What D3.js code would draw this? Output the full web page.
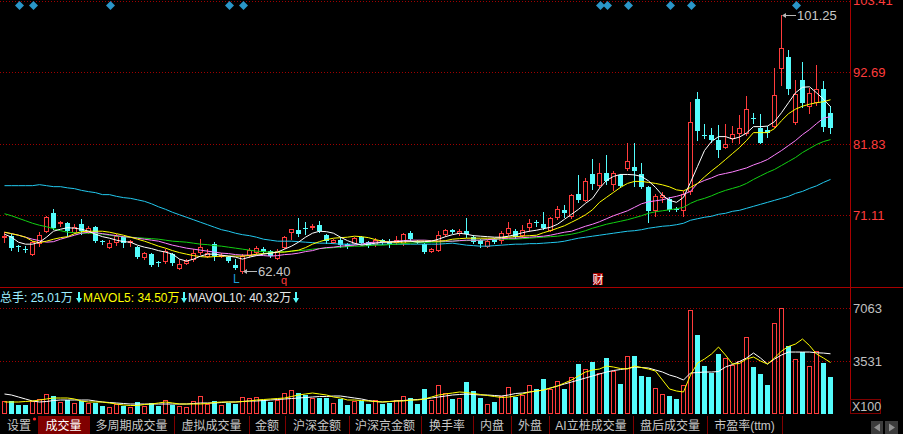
<!DOCTYPE html>
<html><head><meta charset="utf-8">
<script src="https://cdn.jsdelivr.net/npm/d3@7"></script>
<style>
html,body{margin:0;padding:0;background:#000;overflow:hidden}
svg{display:block}
text{font-family:"Liberation Sans",Arial,"Noto Sans CJK SC",sans-serif}
</style></head><body><svg id="c" width="903" height="434"></svg>
<script>
// ---------- DATA ----------
const open=[67.8,67.95,66.45,66.0,65.25,66.9,68.7,71.4,69.9,69.9,
68.55,69.75,68.55,69.3,67.2,66.3,67.05,67.8,67.05,66.3,
64.8,65.25,64.05,64.2,65.25,63.15,63.9,64.5,65.55,64.95,
66.75,64.95,64.8,63.6,62.7,65.1,65.55,66.0,65.7,64.65,
66.3,68.55,68.85,69.15,69.3,69.6,68.1,67.05,67.35,66.75,
66.9,67.8,67.05,66.75,67.35,67.05,67.05,66.9,68.4,67.2,
66.75,65.7,65.85,68.25,68.85,68.4,68.7,67.8,67.35,66.45,
67.5,67.35,68.4,68.7,68.1,69.3,70.05,69.75,68.85,70.8,
71.85,70.95,74.25,73.35,77.25,75.6,77.4,75.75,77.1,78.15,
78.3,77.25,75.3,71.85,73.8,73.5,72.0,71.85,74.7,88.65,
83.25,83.25,82.5,81.45,82.8,83.55,83.55,85.8,84.3,84.0,
84.6,93.3,94.95,85.2,91.5,87.6,88.2,90.15,86.55];
const high=[68.55,68.25,66.6,66.45,67.2,68.55,70.95,72.0,70.2,70.05,
69.75,70.5,69.45,69.45,67.35,67.35,68.25,67.95,67.35,66.45,
65.55,65.4,64.2,66.0,65.4,64.5,64.5,66.0,67.5,66.0,
67.05,65.4,64.95,64.5,65.25,66.15,66.45,66.3,65.85,66.0,
67.95,69.0,70.65,70.05,69.75,70.2,68.25,67.5,67.8,66.9,
67.8,67.95,67.2,67.65,67.5,67.5,67.95,68.4,68.7,67.35,
66.9,66.15,68.7,69.0,69.0,69.0,70.65,68.1,67.5,67.5,
67.65,68.7,70.05,69.0,69.6,70.5,70.35,71.55,70.8,72.45,
72.6,74.25,77.1,76.65,79.65,78.9,80.25,77.7,77.25,82.05,
82.05,78.9,75.45,74.25,74.55,73.8,72.3,74.7,88.2,89.7,
84.9,84.3,84.75,84.9,84.6,86.25,89.1,86.55,86.4,84.6,
93.3,101.25,96.0,91.5,94.2,90.3,93.75,91.35,87.6];
const low=[67.05,65.85,65.7,65.55,65.1,66.45,68.55,69.0,69.45,67.95,
68.4,68.25,68.4,67.05,66.75,66.15,66.6,66.3,66.45,64.65,
64.5,63.45,63.45,63.9,63.6,63.0,63.75,64.2,65.25,64.8,
64.35,64.8,64.05,63.0,62.4,64.8,65.25,65.4,64.8,64.5,
66.15,67.5,67.95,68.25,69.0,68.55,66.9,66.9,66.3,66.15,
66.75,66.75,66.3,66.45,66.75,66.3,66.75,66.6,67.2,66.9,
65.4,65.55,65.7,67.95,68.4,68.1,67.8,66.9,66.3,66.3,
66.9,66.9,68.1,67.65,67.8,68.7,69.45,69.0,68.7,70.5,
70.8,70.65,73.05,73.2,75.0,75.3,75.75,74.85,75.3,77.85,
75.45,75.15,70.05,70.95,73.05,71.7,71.7,70.95,74.25,82.5,
82.8,82.2,79.95,81.3,82.2,82.05,83.25,85.05,82.05,82.95,
84.45,90.75,89.4,84.9,87.45,86.55,87.75,83.85,83.55];
const close=[67.95,66.15,66.3,65.85,67.05,68.1,70.8,69.15,70.05,68.7,
69.3,68.7,69.15,67.2,67.05,66.9,67.95,66.9,67.2,64.8,
65.4,63.6,63.9,65.7,63.9,63.75,64.2,65.4,66.3,65.4,
64.95,65.1,64.2,63.15,64.95,65.85,66.15,65.55,64.95,65.7,
67.8,69.0,68.25,69.0,69.45,68.7,67.2,67.35,66.6,66.3,
67.65,66.9,66.45,67.35,67.05,66.75,67.35,68.25,67.5,67.05,
65.55,66.0,68.1,68.85,68.55,68.7,68.25,67.05,66.75,67.2,
67.05,68.4,69.15,67.8,68.85,69.9,69.9,69.15,70.65,72.0,
71.4,74.1,73.35,76.2,75.75,77.4,76.2,77.4,75.45,79.2,
77.7,75.3,71.7,73.95,74.1,71.85,71.85,74.25,85.2,83.85,
83.1,82.5,81.0,81.9,83.4,84.3,87.15,85.65,82.05,83.55,
89.25,96.3,90.15,89.4,88.05,89.55,90.15,84.45,84.3];
// volume, in units of 100 lots (X100)
const volume=[866,866,600,600,910,1043,1332,1199,821,932,
733,888,755,777,555,466,666,577,466,799,
555,733,577,932,644,533,511,866,1199,666,
866,600,755,710,1132,1110,1132,977,821,932,
1399,1598,1399,1265,1088,1088,1088,777,999,600,
910,866,666,955,666,755,977,1199,1066,666,
1665,977,1931,1443,999,1110,2131,1532,1066,710,
799,1221,1843,1154,1265,1976,1709,2331,1709,2242,
1687,2509,3330,3041,3463,2775,3730,2908,1998,3907,
3907,2531,2464,1776,1376,1199,999,1931,6926,5306,
3197,2775,3996,3752,3263,3530,5173,3130,2664,1954,
6105,7063,4529,3663,4174,3197,4240,3397,2501];
const ma5=[68.25,67.8,67.05,66.75,66.75,67.05,67.8,68.7,69.0,69.23,
69.15,69.0,68.7,68.25,67.88,67.65,67.35,67.13,67.05,66.6,
66.3,66.08,65.78,65.55,65.25,64.5,64.2,64.5,64.95,65.25,
65.25,65.1,64.95,64.8,64.5,64.8,65.03,65.25,65.4,65.55,
66.0,66.45,67.05,67.8,68.4,68.7,68.63,68.4,67.8,67.28,
66.9,66.6,66.75,66.9,67.05,67.05,67.13,67.2,67.2,67.05,
67.13,67.2,67.5,67.88,68.18,68.4,68.25,68.03,67.95,67.88,
67.8,67.8,67.95,68.18,68.48,68.7,68.85,69.08,69.3,69.75,
70.5,71.25,72.0,72.9,73.65,75.15,76.35,76.95,77.25,77.25,
77.18,76.95,76.28,75.3,74.1,73.35,73.05,73.8,76.05,78.45,
80.85,82.2,82.95,82.95,82.58,82.88,83.48,84.45,84.45,84.53,
85.2,86.55,88.05,89.55,90.38,90.45,89.55,88.58,87.45];
const ma10=[68.55,68.33,68.1,67.8,67.2,66.98,67.2,67.5,67.73,67.88,
68.33,68.63,68.7,68.7,68.7,68.55,68.33,68.1,67.8,67.5,
67.2,66.83,66.45,66.15,65.78,65.48,65.25,65.03,64.88,64.8,
64.88,64.95,64.95,64.95,64.95,65.03,65.25,65.33,65.4,65.55,
65.55,65.7,65.85,66.23,66.75,67.13,67.43,67.65,67.73,67.8,
67.95,67.88,67.73,67.43,67.2,67.05,67.05,67.05,67.13,67.2,
67.2,67.2,67.2,67.28,67.5,67.58,67.65,67.65,67.65,67.65,
67.65,67.73,67.8,67.88,67.95,68.03,68.1,68.48,68.78,69.15,
69.53,70.05,70.58,71.18,71.93,73.05,73.8,74.55,75.3,75.9,
76.2,76.2,76.05,75.9,75.68,75.38,74.93,74.78,75.3,75.9,
76.88,77.78,78.6,79.5,80.4,81.3,82.35,83.55,83.55,83.55,
84.15,85.35,86.4,87.08,87.53,87.83,88.05,88.2,88.5];
const ma20=[68.55,68.33,68.1,67.8,67.5,67.28,67.05,67.13,67.5,67.8,
68.1,68.4,68.55,68.48,68.33,68.18,68.03,67.88,67.8,67.65,
67.5,67.35,67.2,66.9,66.6,66.38,66.15,66.0,65.85,65.7,
65.55,65.4,65.33,65.18,65.1,65.1,65.1,65.03,64.95,65.03,
65.18,65.25,65.4,65.63,65.78,66.08,66.23,66.3,66.45,66.53,
66.6,66.75,66.98,67.05,67.05,67.13,67.2,67.28,67.35,67.35,
67.35,67.28,67.2,67.2,67.2,67.28,67.35,67.35,67.35,67.43,
67.5,67.58,67.65,67.65,67.73,67.8,67.88,67.95,68.1,68.33,
68.55,68.7,69.08,69.45,69.75,70.13,70.58,71.03,71.4,71.78,
72.3,72.83,73.13,73.28,73.43,73.73,73.95,74.25,74.7,75.9,
76.35,76.73,77.18,77.4,77.63,77.93,78.23,78.68,79.05,79.5,
80.18,80.85,81.6,82.35,83.25,84.0,84.9,85.73,85.95];
const ma60=[71.33,71.03,70.65,70.28,69.9,69.6,69.38,69.08,68.78,68.55,
68.48,68.4,68.4,68.4,68.25,68.1,67.95,67.88,67.8,67.73,
67.65,67.58,67.5,67.35,67.2,67.13,67.05,66.9,66.75,66.68,
66.53,66.45,66.3,66.15,66.0,65.85,65.7,65.63,65.55,65.55,
65.63,65.7,65.78,65.85,66.0,66.08,66.15,66.23,66.3,66.38,
66.45,66.45,66.53,66.6,66.6,66.68,66.75,66.83,66.9,66.98,
66.98,67.05,67.05,67.13,67.2,67.28,67.28,67.35,67.35,67.43,
67.5,67.5,67.5,67.5,67.58,67.65,67.73,67.8,67.88,67.95,
68.1,68.25,68.48,68.78,69.15,69.45,69.75,69.98,70.2,70.43,
70.73,71.03,71.4,71.63,71.78,71.93,72.08,72.3,72.9,73.35,
73.65,74.03,74.48,74.85,75.15,75.45,75.9,76.5,77.03,77.55,
78.0,78.6,79.2,79.8,80.55,81.15,81.75,82.2,82.5];
const ma120=[75.56,75.56,75.56,75.56,75.56,75.71,75.56,75.41,75.41,75.23,
75.11,74.85,74.66,74.51,74.21,74.21,73.95,73.76,73.65,73.43,
73.2,72.83,72.38,72.0,71.55,71.18,70.8,70.43,70.05,69.68,
69.3,68.93,68.7,68.4,68.18,68.03,67.8,67.5,67.35,67.2,
67.2,67.2,67.13,67.05,66.98,66.9,66.9,66.83,66.75,66.75,
66.75,66.75,66.75,66.75,66.75,66.75,66.75,66.75,66.75,66.75,
66.75,66.75,66.75,66.83,66.9,66.75,66.6,66.53,66.45,66.45,
66.53,66.6,66.68,66.75,66.75,66.83,66.83,66.9,66.98,67.05,
67.2,67.43,67.65,67.8,67.95,68.1,68.25,68.4,68.55,68.7,
68.78,68.93,69.15,69.3,69.45,69.53,69.68,69.9,70.35,70.58,
70.8,70.95,71.25,71.4,71.7,71.85,72.15,72.45,72.75,73.05,
73.35,73.65,73.95,74.4,74.7,75.15,75.53,76.05,76.5];
const mavol5=[819,819,819,852,886,952,1019,1086,1086,1086,
1019,886,819,819,819,753,686,619,586,586,
653,686,753,819,753,686,686,686,686,719,
786,819,819,819,852,886,952,986,1019,1052,
1086,1185,1285,1352,1419,1352,1285,1152,1086,952,
952,919,886,852,819,852,886,886,952,952,
1019,1152,1285,1352,1419,1485,1452,1385,1319,1252,
1185,1119,1152,1219,1352,1485,1552,1618,1752,1885,
2085,2284,2551,2817,2950,3017,3217,3150,3050,3017,
3217,3117,3017,2884,2284,1685,1552,1485,2617,3417,
3683,4016,4482,3949,3350,3383,3683,3816,3550,3350,
3750,4216,4515,4682,5015,4582,4016,3750,3450];
const mavol10=[1352,1285,1152,1019,886,819,852,919,952,952,
952,952,952,886,819,786,753,719,686,686,
686,686,686,686,686,686,686,719,753,753,
753,786,819,819,852,886,886,919,952,986,
1019,1052,1086,1119,1152,1185,1185,1219,1219,1152,
1086,1019,919,852,819,852,886,919,952,986,
1019,1086,1152,1219,1285,1319,1352,1319,1285,1285,
1252,1219,1285,1385,1419,1485,1552,1618,1752,1885,
2018,2151,2284,2418,2551,2684,2817,2917,2984,3050,
3150,3117,3084,2950,2817,2617,2484,2284,2751,2784,
2817,2817,2850,3150,3317,3516,3750,4083,3750,3350,
3683,3949,4149,4149,4149,4149,4100,4080,4032];
const priceTicks=[103.41,92.69,81.83,71.11];
const volTicks=[7063,3531];
const markerIdx=[2,4,15,32,34,85,86,89,95,98,113];
const tabs=["设置","成交量","多周期成交量","虚拟成交量","金额","沪深金额","沪深京金额","换手率","内盘","外盘","AI立桩成交量","盘后成交量","市盈率(ttm)"];
const tabEdges=[0,38,89,174,249,285,349,421,473,511,549,633,707,782];
const activeTab=1;

// ---------- DRAW ----------
const W=903,H=434;
const RED="#ff3c3c", CYAN="#54fcfc", FRAME="#a80000", GRID="#a00000";
const svg=d3.select("#c");
svg.append("rect").attr("width",W).attr("height",H).attr("fill","#000");
const N=open.length;
const x=d3.scaleBand().domain(d3.range(N)).range([0.5,833.5]);
const cx=i=>Math.round(x(i)+3.5);
const y=d3.scaleLinear().domain([60.3,103.52]).range([287,0]);
const vy=d3.scaleLinear().domain([0,7063]).range([414.3,308.3]);
const py=v=>Math.round(y(v));

svg.append("defs").append("clipPath").attr("id","pc").append("rect").attr("x",0).attr("y",0).attr("width",850).attr("height",287);

// price gridlines
svg.append("g").selectAll("line").data(priceTicks).join("line")
  .attr("x1",0).attr("x2",850).attr("y1",d=>Math.round(y(d))+0.5).attr("y2",d=>Math.round(y(d))+0.5)
  .attr("stroke",GRID).attr("stroke-dasharray","1,2");
// volume gridlines
svg.append("g").selectAll("line").data(volTicks).join("line")
  .attr("x1",0).attr("x2",850).attr("y1",d=>Math.round(vy(d))+0.5).attr("y2",d=>Math.round(vy(d))+0.5)
  .attr("stroke",GRID).attr("stroke-dasharray","1,2");

// frame
svg.append("line").attr("x1",850.5).attr("x2",850.5).attr("y1",0).attr("y2",414).attr("stroke",FRAME);
svg.append("line").attr("x1",0).attr("x2",W).attr("y1",287.5).attr("y2",287.5).attr("stroke",FRAME);

// price axis
const pa=svg.append("g").attr("transform","translate(850,0)")
  .call(d3.axisRight(y).tickValues(priceTicks).tickSize(0).tickPadding(3).tickFormat(d3.format(".2f")));
pa.select(".domain").remove();
pa.selectAll("text").attr("fill",RED).attr("font-size",13).attr("font-family",'"Liberation Sans",Arial,sans-serif');
// volume axis
const va=svg.append("g").attr("transform","translate(850,0)")
  .call(d3.axisRight(vy).tickValues(volTicks).tickSize(0).tickPadding(3).tickFormat(d3.format("d")));
va.select(".domain").remove();
va.selectAll("text").attr("fill","#c0c0c0").attr("font-size",13).attr("font-family",'"Liberation Sans",Arial,sans-serif');
svg.append("rect").attr("x",850.5).attr("y",399.5).attr("width",30).attr("height",14).attr("fill","#000").attr("stroke","#800000");
svg.append("text").attr("x",852).attr("y",411).attr("fill","#c0c0c0").attr("font-size",12.5).text("X100");

// candles
const cg=svg.append("g").attr("clip-path","url(#pc)");
d3.range(N).forEach(i=>{
  const c=cx(i), up=close[i]>=open[i];
  const yO=py(open[i]), yC=py(close[i]), yH=py(high[i]), yL=py(low[i]);
  const t=Math.min(yO,yC), b=Math.max(yO,yC);
  if(up){
    if(t>yH) cg.append("line").attr("x1",c+0.5).attr("x2",c+0.5).attr("y1",yH).attr("y2",t).attr("stroke",RED);
    if(yL>b) cg.append("line").attr("x1",c+0.5).attr("x2",c+0.5).attr("y1",b+1).attr("y2",yL+1).attr("stroke",RED);
    if(b-t>=1) cg.append("rect").attr("x",c-1.5).attr("y",t+0.5).attr("width",4).attr("height",b-t).attr("fill","#000").attr("stroke",RED);
    else cg.append("line").attr("x1",c-2).attr("x2",c+3).attr("y1",t+0.5).attr("y2",t+0.5).attr("stroke",RED);
  } else {
    cg.append("line").attr("x1",c+0.5).attr("x2",c+0.5).attr("y1",yH).attr("y2",yL+1).attr("stroke",CYAN);
    cg.append("rect").attr("x",c-2).attr("y",t).attr("width",5).attr("height",Math.max(1,b-t)).attr("fill",CYAN);
  }
});

// moving averages (price)
const line=d3.line().x((d,i)=>cx(i)+0.5).y(d=>y(d));
[[ma120,"#22c8ee"],[ma60,"#12d012"],[ma20,"#ff80ff"],[ma10,"#ffff00"],[ma5,"#ffffff"]].forEach(([s,col])=>{
  cg.append("path").attr("d",line(s)).attr("fill","none").attr("stroke",col).attr("stroke-width",1);
});

// volume bars
const vg=svg.append("g");
d3.range(N).forEach(i=>{
  const c=cx(i), up=close[i]>=open[i], t=Math.round(vy(volume[i])), b=414;
  if(up) vg.append("rect").attr("x",c-1.5).attr("y",t+0.5).attr("width",4).attr("height",b-t-1).attr("fill","#000").attr("stroke",RED);
  else vg.append("rect").attr("x",c-2).attr("y",t).attr("width",5).attr("height",b-t).attr("fill",CYAN);
});
const vline=d3.line().x((d,i)=>cx(i)+0.5).y(d=>vy(d));
vg.append("path").attr("d",vline(mavol10)).attr("fill","none").attr("stroke","#ffffff");
vg.append("path").attr("d",vline(mavol5)).attr("fill","none").attr("stroke","#ffff00");

// top markers (diamonds)
svg.append("g").selectAll("path").data(markerIdx).join("path")
  .attr("d",i=>{const c=cx(i)+1.5,m=5.5,r=4.5;return `M${c},${m-r}L${c+r},${m}L${c},${m+r}L${c-r},${m}Z`;})
  .attr("fill","#2a96c8");

// max / min annotations
const iMax=d3.maxIndex(high), iMin=d3.minIndex(low);
function annot(i,val,off){
  const c=cx(i), yy=py(val)+0.5+off;
  svg.append("line").attr("x1",c+2).attr("x2",c+15).attr("y1",yy).attr("y2",yy).attr("stroke","#b8b8b8");
  svg.append("path").attr("d",`M${c+1},${yy}L${c+5},${yy-2.5}L${c+5},${yy+2.5}Z`).attr("fill","#b8b8b8");
  svg.append("text").attr("x",c+16).attr("y",yy).attr("dy","0.34em").attr("fill","#c8c8c8").attr("font-size",13).text(d3.format(".2f")(val));
}
annot(iMax,high[iMax],0);
annot(iMin,low[iMin],-2);
svg.append("text").attr("x",233).attr("y",283).attr("fill","#1e9ed6").attr("font-size",12).text("L");
svg.append("text").attr("x",281).attr("y",284).attr("fill",RED).attr("font-size",11).text("q");
svg.append("rect").attr("x",593).attr("y",273).attr("width",10).attr("height",12).attr("fill","#a00000");
svg.append("text").attr("x",598).attr("y",283.5).attr("text-anchor","middle").attr("fill","#ffffff").attr("font-size",11).attr("font-family",'"Noto Sans CJK SC",sans-serif').text("财");

// volume legend
const fmtW=v=>(v/100).toFixed(2)+"万";
const lg=svg.append("g").attr("font-size",12);
const arrow=(x0)=>lg.append("path")
  .attr("d",`M${x0+2},292L${x0+4},292L${x0+4},298L${x0+6},298L${x0+3},303L${x0},298L${x0+2},298Z`).attr("fill",CYAN);
lg.append("text").attr("x",0).attr("y",302).attr("fill","#9cecff").text("总手: "+fmtW(volume[N-1]));
arrow(76);
lg.append("text").attr("x",83).attr("y",302).attr("fill","#ffff00").text("MAVOL5: "+fmtW(mavol5[N-1]));
arrow(181);
lg.append("text").attr("x",188).attr("y",302).attr("fill","#e8e8e8").text("MAVOL10: "+fmtW(mavol10[N-1]));
arrow(293);

// tab bar
const tb=svg.append("g");
tabs.forEach((t,k)=>{
  const x0=tabEdges[k], x1=tabEdges[k+1];
  if(k===activeTab) tb.append("rect").attr("x",x0+0.5).attr("y",416).attr("width",x1-x0).attr("height",18).attr("fill","#800000");
  tb.append("text").attr("x",(x0+x1)/2).attr("y",425.5).attr("dy","0.36em").attr("text-anchor","middle")
    .attr("font-size",12).attr("font-family",'"Noto Sans CJK SC","Liberation Sans",sans-serif')
    .attr("fill",k===activeTab?"#ffffff":"#c8c8c8").text(t);
});
tabEdges.slice(1).forEach(e=>tb.append("line").attr("x1",e+0.5).attr("x2",e+0.5).attr("y1",416).attr("y2",434).attr("stroke","#800000"));
tb.append("circle").attr("cx",34.5).attr("cy",419).attr("r",1.6).attr("fill","#ff2020");
tb.append("rect").attr("x",871).attr("y",421).attr("width",12).attr("height",13).attr("fill","#3c3c3c");
tb.append("rect").attr("x",885).attr("y",421).attr("width",13).attr("height",13).attr("fill","#3c3c3c");
tb.append("path").attr("d","M874,427.5L880,423.5L880,431.5Z").attr("fill","#909090");
tb.append("path").attr("d","M895,427.5L889,423.5L889,431.5Z").attr("fill","#909090");
</script></body></html>
